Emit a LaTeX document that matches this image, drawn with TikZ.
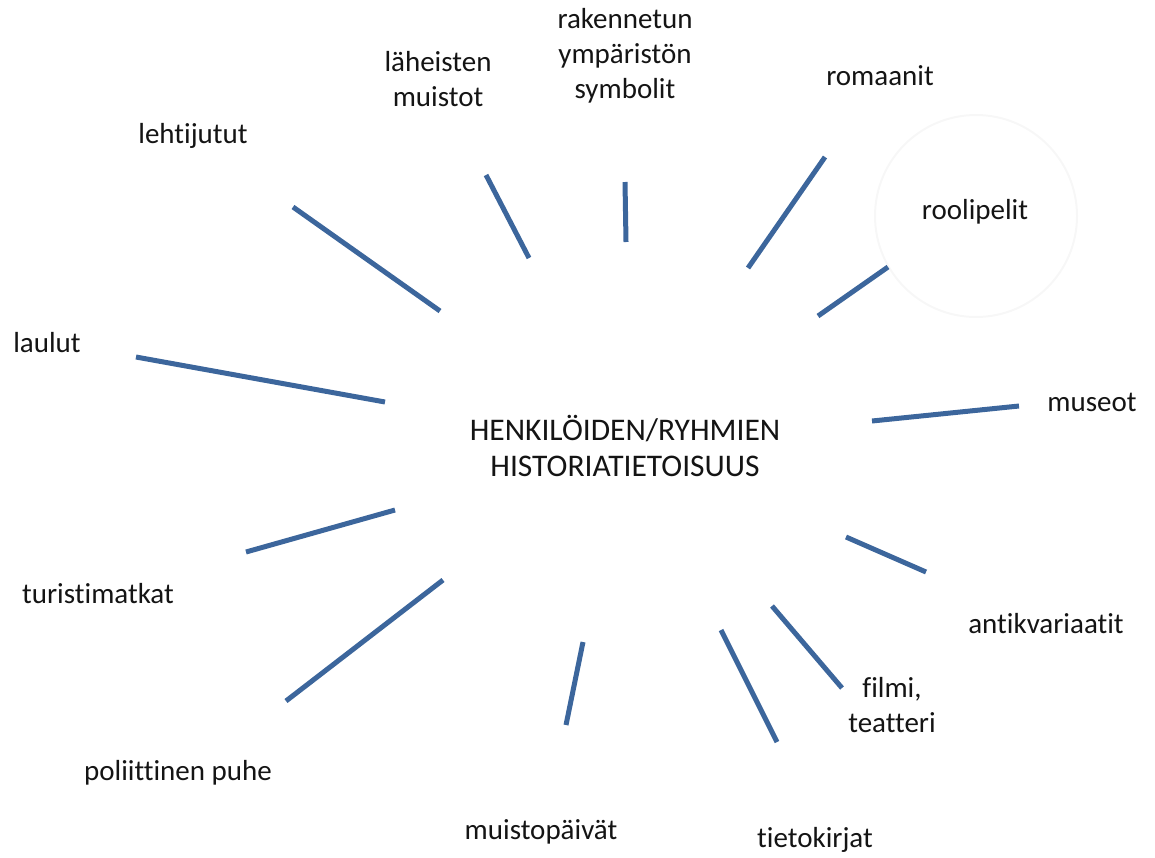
\documentclass[tikz,border=0pt]{standalone}
\usepackage{fontspec}
\setmainfont{Carlito}[Ligatures=NoCommon]
\usetikzlibrary{positioning}
\definecolor{spokeblue}{RGB}{60,102,156}
\definecolor{ink}{RGB}{20,20,20}
\tikzset{
  spoke/.style={draw=spokeblue,line width=5pt},
  lbl/.style={font=\fontsize{29}{35}\selectfont,text=ink,align=center,inner sep=0pt},
  hub/.style={font=\fontsize{31.5}{36}\selectfont,text=ink,align=center,inner sep=0pt},
}
\begin{document}
\begin{tikzpicture}[x=1pt,y=-1pt]
        \useasboundingbox (0,0) rectangle (1155,857);
        % faint ring behind roolipelit
        \draw[black!3,line width=2pt] (976,216) circle (101);
        \node[hub] (hub) at (625,446) {HENKILÖIDEN/RYHMIEN\\HISTORIATIETOISUUS};
        \node[lbl] (rak) at (625,56) {rakennetun\\ympäristön\\symbolit};
        \node[lbl] (lah) at (438,79) {läheisten\\muistot};
        \node[lbl] (rom) at (880,76) {romaanit};
        \node[lbl] (leh) at (193,136) {lehtijutut};
        \node[lbl] (roo) at (975,212) {roolipelit};
        \node[lbl] (lau) at (47,343) {laulut};
        \node[lbl] (mus) at (1092,402) {museot};
        \node[lbl] (tur) at (98,594) {turistimatkat};
        \node[lbl] (ant) at (1046,624) {antikvariaatit};
        \node[lbl] (fil) at (892,705) {filmi,\\teatteri};
        \node[lbl] (pol) at (178,773) {poliittinen puhe};
        \node[lbl] (mpv) at (541,832) {muistopäivät};
        \node[lbl] (tie) at (815,840) {tietokirjat};
        % spokes around the hub
        \foreach \n/\xa/\ya/\xb/\yb in {leh/293/207/440/311, lah/486/175/529/258,
            rak/625/182/626/242, rom/825/157/748/268, roo/888/267/818/316,
            lau/136/357/385/402, mus/1019/406/872/421, ant/846/537/926/572,
            tur/246/552/395/510, pol/443/580/286/701, mpv/583/642/566/725,
            tie/721/630/777/742, fil/772/606/842/688} {
          \coordinate (a-\n) at (\xa,\ya);
          \coordinate (b-\n) at (\xb,\yb);
          \draw[spoke] (a-\n) -- (b-\n);
        }
      \end{tikzpicture}
\end{document}
